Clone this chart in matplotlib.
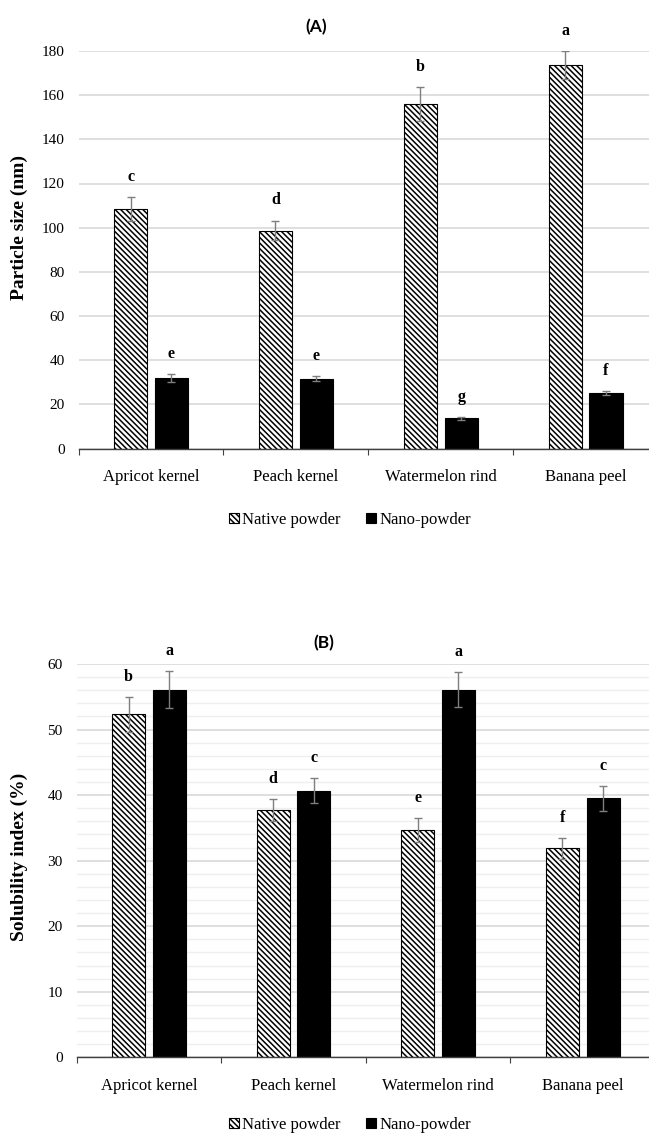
import matplotlib
matplotlib.use('Agg')
import matplotlib.pyplot as plt
import numpy as np

categories = ['Apricot kernel', 'Peach kernel', 'Watermelon rind', 'Banana peel']
series = ['Native powder', 'Nano-powder']

# (A) particle size, nm
size_native = [108.4, 98.7, 155.8, 173.6]
size_native_sd = [5.5, 4.5, 7.7, 6.5]
size_nano = [32.0, 31.6, 13.6, 25.1]
size_nano_sd = [1.7, 1.2, 0.5, 1.0]
size_native_letters = ['c', 'd', 'b', 'a']
size_nano_letters = ['e', 'e', 'g', 'f']

# (B) solubility index, %
sol_native = [52.3, 37.7, 34.7, 31.9]
sol_native_sd = [2.6, 1.7, 1.8, 1.6]
sol_nano = [56.1, 40.7, 56.1, 39.5]
sol_nano_sd = [2.8, 1.9, 2.7, 1.9]
sol_native_letters = ['b', 'd', 'e', 'f']
sol_nano_letters = ['a', 'c', 'a', 'c']

plt.rcParams['font.family'] = ['Liberation Serif', 'DejaVu Serif']
plt.rcParams['hatch.linewidth'] = 1.1

W, H = 649, 1133
fig = plt.figure(figsize=(W / 100, H / 100), dpi=100)


def panel(rect, native, native_sd, nano, nano_sd, l_native, l_nano,
          ymax, major, minor, ylabel, ylab_y, title, title_xy, legend_xy):
    ax = fig.add_axes(rect)
    x = np.arange(len(categories))
    off, w = 0.141, 0.228
    ax.bar(x - off, native, w, color='white', edgecolor='black', linewidth=0.8,
           hatch='\\\\\\\\\\\\', label=series[0], zorder=3)
    ax.bar(x + off, nano, w, color='black', edgecolor='black', linewidth=0.8,
           label=series[1], zorder=3)
    ax.errorbar(x - off, native, yerr=native_sd, fmt='none', ecolor='#7f7f7f',
                elinewidth=1, capsize=3, capthick=1, zorder=4)
    ax.errorbar(x + off, nano, yerr=nano_sd, fmt='none', ecolor='#7f7f7f',
                elinewidth=1, capsize=3, capthick=1, zorder=4)
    for xs, vals, sds, labs in [(x - off, native, native_sd, l_native),
                                (x + off, nano, nano_sd, l_nano)]:
        for xi, v, s, t in zip(xs, vals, sds, labs):
            ax.annotate(t, (xi, v + s), xytext=(0, 14.5), textcoords='offset points',
                        ha='center', va='center', fontsize=11.5, fontweight='bold')

    ax.set_xlim(-0.5, len(categories) - 0.5)
    ax.set_ylim(0, ymax)
    ax.set_yticks(np.arange(0, ymax + 1, major))
    if minor:
        ax.set_yticks(np.arange(0, ymax + 0.1, minor), minor=True)
        ax.grid(axis='y', which='minor', color='#efefef', linewidth=1.0, zorder=0)
    ax.grid(axis='y', which='major', color='#d9d9d9', linewidth=1.2, zorder=0)
    ax.set_xticks(x)
    ax.set_xticklabels(categories, fontsize=12)
    ax.set_xticks(np.arange(-0.5, len(categories), 1.0), minor=True)
    ax.tick_params(axis='x', which='major', length=0, pad=15)
    ax.tick_params(axis='x', which='minor', length=4.5, width=0.8, color='#404040', direction='out')
    ax.tick_params(axis='y', which='both', length=0, labelsize=11, pad=10)
    for s in ['top', 'right', 'left']:
        ax.spines[s].set_visible(False)
    ax.spines['bottom'].set_color('#404040')
    ax.spines['bottom'].set_linewidth(1.0)
    ax.spines['bottom'].set_zorder(5)

    ax.set_ylabel(ylabel, fontsize=14, fontweight='bold')
    ax.yaxis.set_label_coords(-(rect[0] * W - 28) / (rect[2] * W), ylab_y)

    fig.text(title_xy[0] / W, 1 - title_xy[1] / H, title, family=['Lato', 'DejaVu Sans'],
             fontsize=12.5, fontweight='bold', ha='center', va='center')
    ax.legend(loc='center', bbox_to_anchor=(legend_xy[0] / W, 1 - legend_xy[1] / H),
              bbox_transform=fig.transFigure, ncol=2, frameon=False, fontsize=12,
              handlelength=0.6, handleheight=0.6, handletextpad=0.2, columnspacing=1.5)
    return ax


panel([78.6 / W, 1 - 448.5 / H, (658 - 78.6) / W, 397.5 / H],
      size_native, size_native_sd, size_nano, size_nano_sd,
      size_native_letters, size_nano_letters,
      180, 20, None, 'Particle size (nm)', 0.555, '(A)', (316.6, 26.7), (350, 520))

panel([76.6 / W, 1 - 1057.3 / H, (655 - 76.6) / W, 393.3 / H],
      sol_native, sol_native_sd, sol_nano, sol_nano_sd,
      sol_native_letters, sol_nano_letters,
      60, 10, 2, 'Solubility index (%)', 0.51, '(B)', (323.7, 643.3), (350, 1125))

fig.savefig('out.png', dpi=100)
